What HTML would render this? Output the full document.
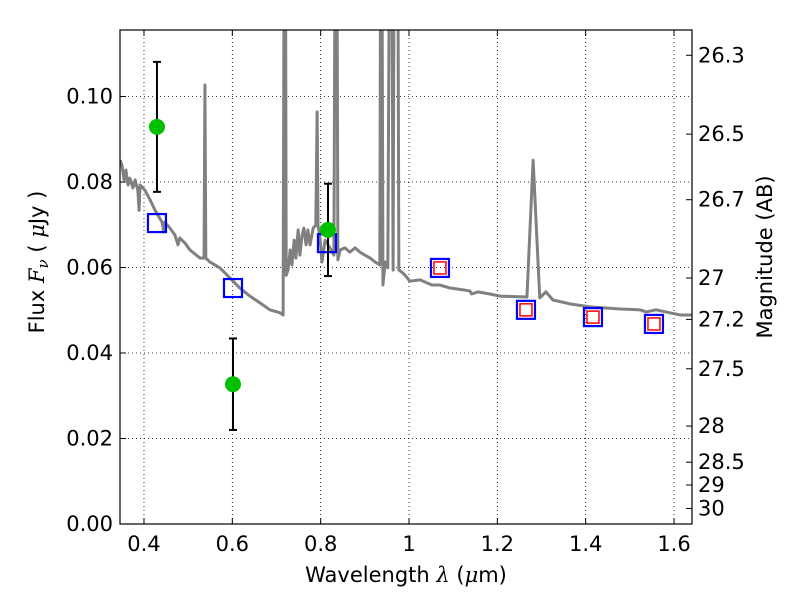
<!DOCTYPE html>
<html><head><meta charset="utf-8"><style>
body{margin:0;background:#fff;}
svg{display:block;font-family:"DejaVu Sans","Liberation Sans",sans-serif;}
</style></head><body>
<svg id="chart" width="800" height="600" viewBox="0 0 800 600"></svg>
<script>
const lam=[0.346,0.350,0.355,0.359,0.364,0.368,0.375,0.380,0.386,0.389,0.391,0.402,0.414,0.425,0.441,0.445,0.447,0.459,0.470,0.477,0.481,0.493,0.504,0.527,0.536,0.538,0.540,0.549,0.572,0.599,0.617,0.640,0.663,0.685,0.708,0.715,0.719,0.722,0.726,0.731,0.735,0.740,0.744,0.749,0.753,0.758,0.762,0.767,0.771,0.776,0.783,0.789,0.792,0.794,0.798,0.803,0.810,0.821,0.830,0.835,0.839,0.844,0.855,0.866,0.878,0.889,0.900,0.912,0.923,0.934,0.937,0.941,0.946,0.952,0.959,0.964,0.968,0.973,0.977,0.984,0.991,1.002,1.025,1.052,1.070,1.093,1.127,1.138,1.142,1.156,1.183,1.206,1.267,1.281,1.296,1.310,1.326,1.364,1.410,1.478,1.523,1.537,1.559,1.591,1.614,1.641];
const flux=[0.0851,0.0840,0.0805,0.0828,0.0793,0.0809,0.0786,0.0805,0.0781,0.0734,0.0793,0.0781,0.0758,0.0734,0.0706,0.0683,0.0706,0.0692,0.0676,0.0653,0.0669,0.0657,0.0641,0.0622,0.0622,0.1027,0.0622,0.0613,0.0599,0.0571,0.0552,0.0533,0.0517,0.0501,0.0494,0.0489,0.2,0.0582,0.0594,0.0641,0.0606,0.0664,0.0622,0.0688,0.0629,0.0676,0.0692,0.0653,0.0688,0.0653,0.0692,0.0699,0.0964,0.0697,0.0676,0.0613,0.0664,0.0646,0.0629,0.2,0.0618,0.0641,0.0646,0.0636,0.0646,0.0636,0.0629,0.0622,0.0613,0.0606,0.2,0.0559,0.0613,0.0599,0.2,0.0594,0.2,0.2,0.0594,0.0589,0.0582,0.0568,0.0571,0.0559,0.0559,0.0552,0.0547,0.0545,0.0538,0.0543,0.0538,0.0533,0.0531,0.0851,0.0529,0.0543,0.0524,0.0515,0.0508,0.0503,0.0501,0.0496,0.0501,0.0494,0.0489,0.0489];
const modelLam=[0.4294,0.6015,0.8143,1.0701,1.2648,1.4165,1.5546];
const modelFlux=[0.0704,0.0552,0.0657,0.0599,0.0501,0.0484,0.0468];
const redIdx=[3,4,5,6];
const obsLam=[0.4294,0.6015,0.8166];
const obsFlux=[0.0929,0.0327,0.0688];
const obsErr=[0.0152,0.0107,0.0108];
const xTicks=[0.4,0.6,0.8,1.0,1.2,1.4,1.6];
const xTickLabels=["0.4","0.6","0.8","1","1.2","1.4","1.6"];
const yTicks=[0,0.02,0.04,0.06,0.08,0.10];
const yTickLabels=["0.00","0.02","0.04","0.06","0.08","0.10"];
const magTicks=[26.3,26.5,26.7,27,27.2,27.5,28,28.5,29,30];
const magLabels=["26.3","26.5","26.7","27","27.2","27.5","28","28.5","29","30"];

const L=120,R=692,T=30,B=524;
const x0=0.3457,x1=1.6407,y0=0,y1=0.11556;
const X=v=>L+(v-x0)/(x1-x0)*(R-L);
const Y=v=>B-(v-y0)/(y1-y0)*(B-T);
const NS="http://www.w3.org/2000/svg";
const svg=document.getElementById('chart');
function mk(tag,attrs,parent){const e=document.createElementNS(NS,tag);for(const k in attrs)e.setAttribute(k,attrs[k]);(parent||svg).appendChild(e);return e;}

const defs=mk('defs',{});
const cp=mk('clipPath',{id:'clip'},defs);
mk('rect',{x:L,y:T,width:R-L,height:B-T},cp);

const grid=mk('g',{});


xTicks.forEach(v=>mk('line',{x1:X(v),x2:X(v),y1:T,y2:B,stroke:'#000','stroke-width':0.8,'stroke-dasharray':'1,3'},grid));
yTicks.forEach(v=>mk('line',{x1:L,x2:R,y1:Y(v),y2:Y(v),stroke:'#000','stroke-width':0.8,'stroke-dasharray':'1,3'},grid));

const g=mk('g',{'clip-path':'url(#clip)'});
const pl=mk('polyline',{points:lam.map((l,i)=>X(l)+','+Y(flux[i])).join(' '),fill:'none',stroke:'#808080','stroke-width':3,'stroke-linejoin':'round'},g);



modelLam.forEach((l,i)=>{
  const r=mk('rect',{x:X(l)-9,y:Y(modelFlux[i])-9,width:18,height:18,fill:'none',stroke:'#0000ff','stroke-width':2.2},g);
  
  
});
redIdx.forEach(i=>{
  const r=mk('rect',{x:X(modelLam[i])-6,y:Y(modelFlux[i])-6,width:12,height:12,fill:'none',stroke:'#ff0000','stroke-width':1.5},g);
  
  
});
obsLam.forEach((l,i)=>{
  const cx=X(l),yt=Y(obsFlux[i]+obsErr[i]),yb=Y(obsFlux[i]-obsErr[i]);
  const eb=mk('g',{},g);
  
  
  mk('line',{x1:cx,x2:cx,y1:yt,y2:yb,stroke:'#000','stroke-width':2},eb);
  mk('line',{x1:cx-4,x2:cx+4,y1:yt,y2:yt,stroke:'#000','stroke-width':2},eb);
  mk('line',{x1:cx-4,x2:cx+4,y1:yb,y2:yb,stroke:'#000','stroke-width':2},eb);
  const c=mk('circle',{cx:cx,cy:Y(obsFlux[i]),r:8,fill:'#00c000'},g);
  
  
});

const fr=mk('rect',{x:L,y:T,width:R-L,height:B-T,fill:'none',stroke:'#000','stroke-width':1.2});



xTicks.forEach((v,i)=>{
  mk('line',{x1:X(v),x2:X(v),y1:B,y2:B-6,stroke:'#000'});
  mk('line',{x1:X(v),x2:X(v),y1:T,y2:T+6,stroke:'#000'});
  const t=mk('text',{x:X(v),y:B+27,'font-size':21,'text-anchor':'middle'});
  t.textContent=xTickLabels[i];
  
  
});
yTicks.forEach((v,i)=>{
  mk('line',{x1:L,x2:L+6,y1:Y(v),y2:Y(v),stroke:'#000'});
  const t=mk('text',{x:L-7,y:Y(v)+7,'font-size':21,'text-anchor':'end'});
  t.textContent=yTickLabels[i];
  
  
});
magTicks.forEach((m,i)=>{
  const f=Math.pow(10,(23.9-m)/2.5);
  const yy=Y(f);
  mk('line',{x1:R,x2:R-6,y1:yy,y2:yy,stroke:'#000'});
  const t=mk('text',{x:R+6,y:yy+7,'font-size':21,'text-anchor':'start'});
  t.textContent=magLabels[i];
  
  
});

const xt=mk('text',{x:406,y:582,'font-size':21,'text-anchor':'middle'});
xt.innerHTML='Wavelength  <tspan font-family="DejaVu Serif" font-style="italic">λ</tspan> (<tspan font-family="DejaVu Serif" font-style="italic">μ</tspan>m)';


const yt=mk('text',{x:0,y:0,'font-size':21,'text-anchor':'middle',transform:'translate(44,262) rotate(-90)'});
yt.innerHTML='Flux  <tspan font-family="DejaVu Serif" font-style="italic">F</tspan><tspan font-family="DejaVu Serif" font-style="italic" font-size="15" dy="4">ν</tspan><tspan dy="-4">  (  </tspan><tspan font-family="DejaVu Serif" font-style="italic">μ</tspan>Jy )';


const rt=mk('text',{x:0,y:0,'font-size':21,'text-anchor':'middle',transform:'translate(772,257) rotate(-90)'});
rt.textContent='Magnitude (AB)';


</script>
</body></html>
